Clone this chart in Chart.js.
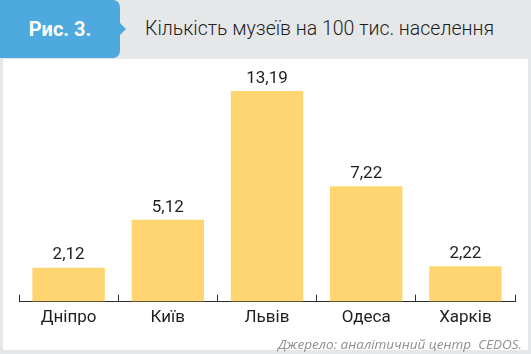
<!DOCTYPE html>
<html>
<head>
<meta charset="utf-8">
<script src="https://cdn.jsdelivr.net/npm/chart.js@4.4.1/dist/chart.umd.min.js"></script>
<style>
  html, body { margin: 0; padding: 0; }
  body { width: 531px; height: 354px; background: #e6e7e9; position: relative; overflow: hidden; font-family: Roboto, "Noto Sans", sans-serif; }
  #panel { position: absolute; left: 3px; top: 59px; width: 525px; height: 291px; background: #ffffff; }
  #badge { position: absolute; left: 0; top: 0; width: 120px; height: 58px; background: #4ea9de; border-radius: 0 7px 7px 0; color: #fff; font-weight: 700; font-size: 20px; line-height: 58px; text-align: center; }
  #badge:after { content: ""; position: absolute; right: -6px; top: 23px; border-left: 6px solid #4ea9de; border-top: 6px solid transparent; border-bottom: 6px solid transparent; }
  #title { position: absolute; left: 145px; top: 17px; font-size: 19.5px; font-weight: 300; color: #1e1e1e; white-space: nowrap; }
  #source { position: absolute; right: 9px; top: 335px; font-size: 13.5px; font-style: italic; color: #8f8f8f; white-space: nowrap; font-family: "Open Sans", sans-serif; }
  #wrap { position: absolute; left: 0; top: 0; width: 531px; height: 354px; }
</style>
</head>
<body>
<div id="panel"></div>
<div id="badge">Рис. 3.</div>
<div id="title">Кількість музеїв на 100 тис. населення</div>
<div id="wrap"><canvas id="c" width="531" height="354"></canvas></div>
<div id="source">Джерело: аналітичний центр&nbsp; CEDOS.</div>
<script>
const categories = ["Дніпро", "Київ", "Львів", "Одеса", "Харків"];
const museums = [2.12, 5.12, 13.19, 7.22, 2.22];
const valueLabels = ["2,12", "5,12", "13,19", "7,22", "2,22"];

const valuePlugin = {
  id: 'valueLabels',
  afterDatasetsDraw(chart) {
    const ctx = chart.ctx;
    const meta = chart.getDatasetMeta(0);
    ctx.save();
    ctx.font = '400 17px Roboto, sans-serif';
    ctx.fillStyle = '#1e1e1e';
    ctx.textAlign = 'center';
    ctx.textBaseline = 'bottom';
    meta.data.forEach((bar, i) => {
      ctx.fillText(valueLabels[i], bar.x, bar.y - 4);
    });
    ctx.restore();
  }
};

new Chart(document.getElementById('c'), {
  type: 'bar',
  data: {
    labels: categories,
    datasets: [{
      data: museums,
      backgroundColor: '#ffd572',
      borderWidth: 0,
      barPercentage: 0.73,
      categoryPercentage: 1.0
    }]
  },
  options: {
    responsive: false,
    animation: false,
    events: [],
    layout: { padding: { left: 19, right: 16, top: 62, bottom: 13 } },
    plugins: { legend: { display: false }, tooltip: { enabled: false } },
    scales: {
      x: {
        grid: { display: true, drawOnChartArea: false, drawTicks: true, tickLength: -7, color: '#2a2a2a', lineWidth: 1, offset: true },
        border: { display: true, color: '#2a2a2a', width: 1 },
        ticks: { color: '#1e1e1e', font: { family: 'Roboto, sans-serif', size: 17 }, padding: 13 }
      },
      y: { display: false, min: 0, max: 15 }
    }
  },
  plugins: [valuePlugin]
});
</script>
</body>
</html>
